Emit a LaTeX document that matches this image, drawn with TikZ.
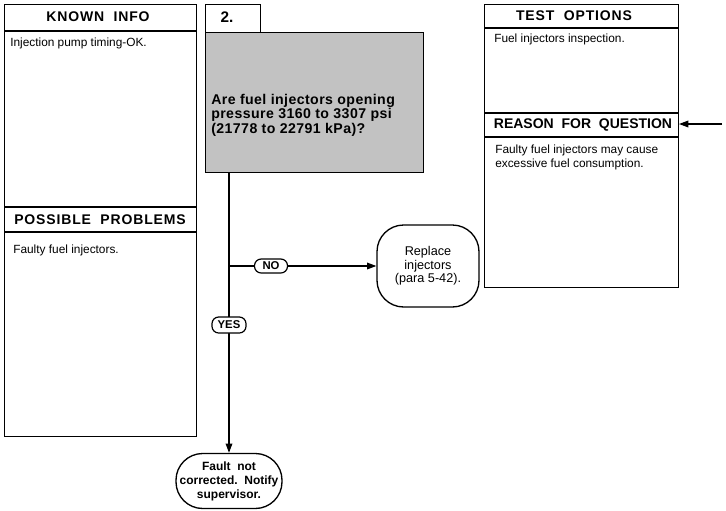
\documentclass[tikz,border=0pt]{standalone}
\usepackage{fontspec}
\setmainfont{Liberation Sans}
\newfontfamily\hfont[LetterSpace=6]{Liberation Sans}
\newfontfamily\qfont[LetterSpace=3]{Liberation Sans}
\usetikzlibrary{arrows.meta}
\begin{document}
\begin{tikzpicture}[x=0.75pt,y=-0.75pt,
  frame/.style={draw, line width=1.1pt},
  head/.style={font=\hfont\bfseries\fontsize{10.5}{12}\selectfont, inner sep=0pt},
  headr/.style={font=\bfseries\fontsize{10.5}{12}\selectfont, inner sep=0pt},
  body/.style={font=\fontsize{8.9}{10}\selectfont, anchor=north west, align=left, inner sep=0pt},
  lbl/.style={draw, line width=0.9pt, rounded corners=5pt, fill=white, font=\bfseries\fontsize{8.5}{9}\selectfont, inner sep=0pt},
  term/.style={draw, line width=1pt, align=center},
  conn/.style={line width=0.9pt},
  tip/.style={-{Triangle[length=7pt,width=5pt]}}
]
\useasboundingbox (0,0) rectangle (726,511);

% left column
\node[frame, minimum width=192*0.75pt, minimum height=432*0.75pt, anchor=north west, inner sep=0pt] (left) at (4,4) {};
\draw[line width=1pt] (4,31) -- (196,31);
\draw[line width=1pt] (4,207) -- (196,207);
\draw[line width=1pt] (4,232) -- (196,232);
\node[head] (known) at (98,17) {KNOWN\hspace{7pt}INFO};
\node[body] (knowntxt) at (10,38) {Injection pump timing-OK.};
\node[head] (poss) at (100,219.5) {POSSIBLE\ \ PROBLEMS};
\node[body] (posstxt) at (13,245) {Faulty fuel injectors.};

% step number and question
\node[frame, minimum width=55*0.75pt, minimum height=28*0.75pt, anchor=north west, inner sep=0pt] (num) at (205,4) {};
\node[font=\bfseries\fontsize{11.5}{12}\selectfont] (numtxt) at (227,17) {2.};
\node[frame, fill=black!24, minimum width=218*0.75pt, minimum height=140*0.75pt, anchor=north west, inner sep=0pt] (q) at (205,32) {};
\node[font=\qfont\bfseries\fontsize{10.6}{10.8}\selectfont, align=left, anchor=west, inner sep=0pt] (qtxt) at (211,115) {Are fuel injectors opening\\pressure 3160 to 3307 psi\\(21778 to 22791 kPa)?};

% right column
\node[frame, minimum width=194*0.75pt, minimum height=283*0.75pt, anchor=north west, inner sep=0pt] (right) at (484,4) {};
\draw[line width=1pt] (484,28) -- (678,28);
\draw[line width=1pt] (484,113) -- (678,113);
\draw[line width=1pt] (484,137) -- (678,137);
\node[head] (test) at (574,15.5) {TEST\ \ OPTIONS};
\node[headr] (reason) at (583,125) {REASON\ \ FOR\ \ QUESTION};
\node[body] (testtxt) at (494,34) {Fuel injectors inspection.};
\node[body] (reasontxt) at (495,145) {Faulty fuel injectors may cause\\excessive fuel consumption.};
\coordinate (arrstart) at (722,124);
\draw[conn, tip] (arrstart) -- (679,124);

% outcomes
\node[term, rounded corners=20pt, minimum width=102*0.75pt, minimum height=82*0.75pt, font=\fontsize{9.5}{10}\selectfont] (rep) at (428,266) {Replace\\injectors\\(para 5-42).};
\node[term, rounded corners=20pt, minimum width=106*0.75pt, minimum height=55*0.75pt, inner sep=0pt, font=\bfseries\fontsize{9}{10.5}\selectfont] (fault) at (229,481) {Fault\ \ not\\corrected.\ \ Notify\\supervisor.};

\coordinate (top) at (q.south -| fault.north);
\coordinate (nobr) at (top |- rep.west);
\draw[conn, tip] (top) -- (fault.north);
\draw[conn, tip] (nobr) -- (rep.west);
\node[lbl, minimum width=33*0.75pt, minimum height=14*0.75pt] (no) at (271,266) {NO};
\node[lbl, minimum width=34*0.75pt, minimum height=16*0.75pt] (yes) at (fault.north |- 0,325) {YES};
\end{tikzpicture}
\end{document}
